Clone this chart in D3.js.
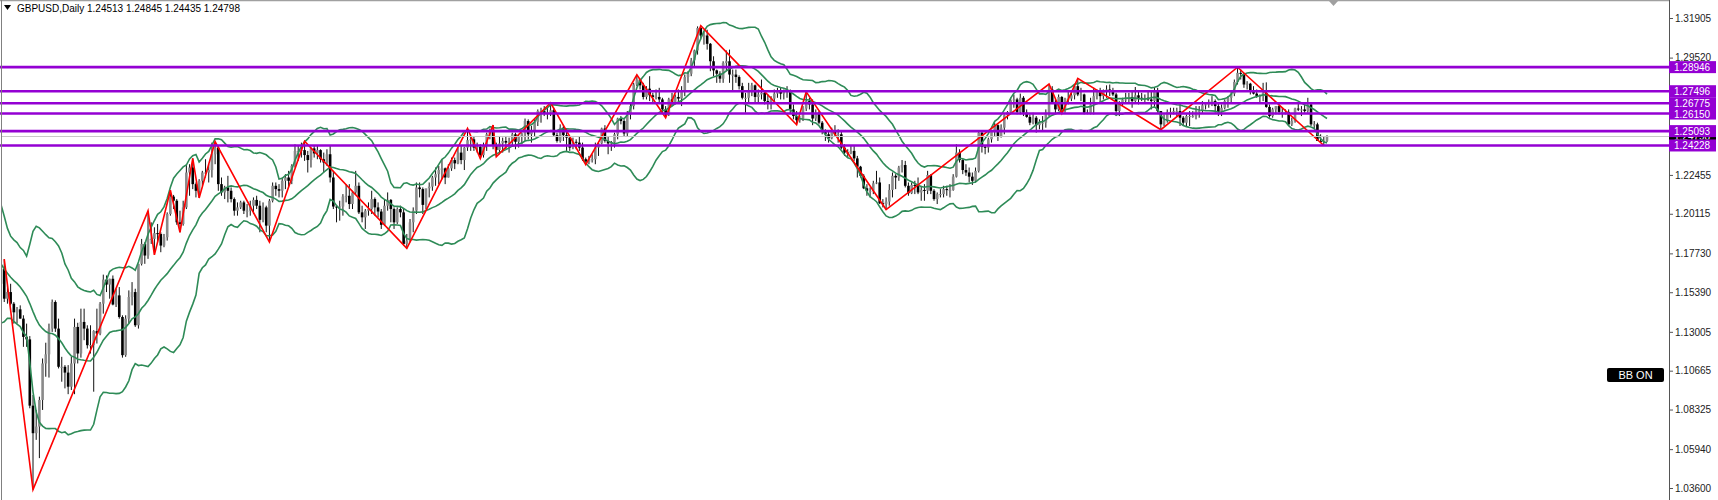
<!DOCTYPE html>
<html><head><meta charset="utf-8">
<script src="https://cdn.jsdelivr.net/npm/d3@7"></script>
<style>body{margin:0;background:#fff}svg{display:block}text{font-family:"Liberation Sans",Arial,sans-serif}</style>
</head><body><svg id="c" width="1718" height="500"></svg>
<script>
// GBPUSD daily bars, prices in 1/10000 (pips). Index 0 = 2022-08-15, index 435 = 2024-04-17
const openP=[
12130,12048,12100,12060,11940,11830,11765,11825,11800,11830,11735,11655,11630,
11620,11540,11510,11520,11510,11530,11505,11590,11680,11500,11540,11470,11418,11436,11380,11270,11255,10856,10690,10730,10890,11110,
11165,11320,11480,11320,11090,11090,11055,10970,11110,11330,11170,11360,11320,11220,11220,11305,11290,11470,11615,11585,11620,
11465,11520,11390,11160,11380,11510,11540,11340,11710,11830,11760,11860,11860,11895,11890,11820,11870,12010,12115,12090,11960,11950,
12050,12260,12290,12190,12150,12210,12260,12260,12275,12370,12410,12190,12140,12170,12150,12100,12030,12050,12080,12030,12030,12060,
12095,12060,11975,12050,11940,12090,12180,12160,12150,12210,12230,12210,12300,12390,12390,12395,12365,12335,12405,12375,12395,12340,
12320,12370,12230,12055,12050,12055,12115,12120,12070,12140,12180,12020,11990,12030,12040,12100,12050,12025,11945,12060,
12095,12040,11960,12040,12020,11830,11850,11960,12030,12170,12160,12065,12165,12175,12230,12250,12275,12285,12230,12285,12335,12315,12380,
12335,12410,12455,12460,12410,12415,12365,12425,12490,12505,12420,12395,12435,12450,12440,12445,12490,12445,12475,12495,
12570,12490,12505,12565,12630,12630,12615,12620,12635,12485,12450,12530,12485,12470,12410,12445,12440,12410,12340,12325,12340,12340,12410,
12435,12525,12450,12435,12440,12490,12585,12570,12495,12610,12660,12790,12820,12785,12715,12765,12725,12715,12715,12700,12640,12610,
12700,12685,12715,12705,12745,12835,12855,12935,12995,13130,13085,13085,13035,12930,12875,12855,12825,12920,12930,12850,12850,
12835,12780,12710,12710,12750,12785,12715,12730,12740,12690,12685,12705,12735,12750,12735,12755,12755,12640,12600,12575,12580,12645,12690,
12670,12585,12620,12560,12505,12490,12465,12505,12490,12490,12410,12380,12375,12390,12345,12295,12240,12165,12150,12150,12195,
12200,12075,12070,12085,12155,12240,12230,12290,12305,12180,12135,12185,12180,12140,12155,12150,12245,12150,12100,12130,12130,12160,
12155,12155,12235,12380,12335,12275,12260,12235,12210,12270,12500,12415,12410,12460,12505,12545,12475,12530,12605,12625,12695,12700,
12625,12710,12620,12595,12560,12590,12545,12560,12560,12620,12760,12685,12640,12715,12640,12705,12705,12725,12780,12730,
12730,12620,12615,12670,12720,12750,12720,12745,12760,12750,12730,12630,12680,12700,12700,12715,12690,12725,12710,12705,12710,12700,
12690,12750,12630,12550,12570,12625,12625,12630,12630,12590,12560,12600,12600,12600,12630,12630,12665,12670,12685,12690,12660,
12625,12650,12690,12710,12735,12805,12860,12855,12790,12795,12750,12735,12720,12720,12740,12655,12600,12640,12660,12625,12625,
12625,12550,12570,12645,12640,12640,12630,12670,12550,12550,12450,12445,12451.3];
const highP=[
12138,12125,12145,12075,11965,11845,11845,11850,11860,11900,11740,11720,11665,
11620,11650,11550,11590,11530,11560,11650,11690,11738,11580,11590,11480,11450,11460,11400,11350,11275,10920,10830,10910,11140,11235,
11350,11495,11490,11380,11150,11100,11100,11150,11380,11355,11440,11440,11340,11340,11310,11440,11480,11645,11640,11620,11640,
11560,11570,11400,11400,11550,11600,11560,11710,11860,11840,12029,11960,11930,11950,11900,11890,12020,12153,12125,12100,12030,12090,
12310,12310,12345,12200,12220,12270,12340,12310,12440,12446,12420,12230,12180,12240,12170,12110,12080,12090,12090,12070,12090,12110,
12120,12090,12080,12060,12100,12200,12200,12190,12230,12250,12270,12310,12430,12420,12440,12448,12390,12410,12420,12420,12400,12380,
12400,12420,12270,12065,12090,12130,12190,12190,12150,12270,12200,12060,12040,12080,12150,12110,12080,12040,12100,12140,
12100,12050,12050,12060,12040,11890,11980,12050,12200,12200,12170,12160,12200,12240,12290,12300,12340,12290,12310,12350,12350,12410,12420,
12415,12525,12480,12480,12440,12430,12440,12500,12525,12546,12440,12480,12470,12480,12470,12500,12500,12490,12500,12585,
12580,12540,12580,12640,12650,12660,12650,12680,12650,12500,12550,12545,12520,12480,12470,12460,12475,12440,12350,12360,12370,12440,12440,
12530,12545,12480,12450,12500,12590,12600,12580,12630,12680,12800,12848,12825,12800,12780,12840,12740,12760,12770,12710,12660,12710,
12740,12730,12760,12780,12850,12870,12950,13000,13140,13144,13110,13120,13040,12960,12880,12870,12930,12995,13000,12880,12880,
12845,12800,12740,12800,12800,12790,12760,12820,12750,12730,12720,12760,12770,12770,12760,12780,12760,12670,12630,12600,12660,12746,12710,
12700,12640,12630,12570,12520,12510,12530,12545,12520,12510,12430,12400,12420,12420,12360,12300,12250,12190,12170,12210,12270,
12230,12100,12110,12190,12260,12250,12300,12335,12330,12200,12200,12210,12230,12180,12190,12270,12250,12160,12140,12160,12180,12180,
12190,12250,12430,12400,12340,12310,12290,12260,12290,12505,12510,12420,12470,12510,12560,12550,12550,12610,12630,12710,12730,12710,
12735,12720,12640,12610,12620,12600,12580,12600,12640,12793,12780,12700,12730,12720,12710,12745,12740,12790,12827,12770,
12735,12640,12710,12770,12760,12770,12760,12785,12790,12770,12740,12690,12710,12740,12740,12750,12775,12745,12740,12730,12745,12750,
12770,12770,12630,12610,12640,12650,12650,12650,12680,12600,12610,12630,12630,12660,12660,12690,12680,12700,12720,12700,12680,
12670,12700,12720,12750,12820,12894,12880,12860,12810,12800,12780,12760,12730,12800,12803,12670,12650,12660,12670,12650,12640,
12640,12590,12650,12680,12660,12670,12710,12680,12570,12560,12490,12475,12484.5];
const lowP=[
12005,12030,12040,11915,11815,11717,11750,11775,11785,11730,11650,11620,11595,
11500,11510,11440,11460,11405,11460,11500,11570,11480,11470,11460,11350,11350,11380,11210,11210,10840,10350,10650,10540,10830,11030,
11025,11300,11300,11080,11000,10960,10925,10950,10925,11110,11145,11250,11200,11170,10940,11230,11280,11410,11540,11500,11460,
11450,11380,11145,11150,11350,11460,11330,11320,11700,11710,11740,11830,11764,11840,11780,11810,11850,12000,12040,11945,11900,11940,
12040,12120,12160,12110,12107,12180,12230,12200,12230,12310,12150,12120,12100,12080,12080,12000,12000,12040,12010,11990,12000,12010,
12040,11900,11960,11900,11841,12080,12120,12110,12110,12160,12170,12190,12290,12330,12350,12330,12260,12290,12350,12340,12320,12260,
12300,12200,12040,11960,11970,12000,12080,12040,12040,12130,12010,11960,11920,12000,12010,12000,11990,11920,11940,12030,
11960,11920,11950,11990,11820,11803,11840,11900,12010,12110,12010,12040,12110,12150,12180,12190,12220,12190,12230,12270,12280,12310,12310,
12275,12390,12390,12390,12380,12344,12350,12390,12460,12400,12355,12370,12380,12400,12380,12420,12400,12410,12430,12450,
12460,12440,12480,12540,12560,12600,12580,12600,12480,12440,12440,12450,12390,12390,12400,12400,12390,12330,12308,12310,12320,12310,12360,
12430,12440,12370,12390,12410,12460,12550,12480,12480,12580,12640,12780,12760,12700,12700,12690,12680,12700,12680,12620,12590,12600,
12660,12670,12680,12660,12720,12800,12840,12900,12970,13060,13030,13000,12870,12840,12800,12800,12800,12870,12800,12750,12800,
12760,12700,12620,12680,12720,12680,12680,12700,12670,12640,12640,12690,12710,12700,12700,12710,12615,12580,12548,12560,12570,12630,12640,
12545,12570,12550,12490,12450,12440,12460,12480,12440,12400,12360,12350,12370,12330,12230,12230,12160,12120,12110,12130,12190,
12070,12050,12037,12060,12110,12160,12210,12260,12170,12120,12130,12130,12130,12090,12090,12130,12130,12090,12070,12110,12110,12120,
12110,12150,12230,12320,12250,12240,12200,12185,12200,12260,12380,12370,12380,12440,12480,12450,12470,12490,12580,12620,12650,12610,
12610,12600,12590,12545,12550,12500,12520,12510,12530,12600,12680,12610,12630,12615,12620,12670,12690,12700,12720,12690,
12610,12611,12610,12610,12700,12680,12700,12710,12720,12720,12600,12600,12660,12680,12680,12650,12680,12670,12690,12680,12690,12640,
12650,12620,12518,12540,12560,12590,12610,12600,12540,12540,12540,12540,12590,12580,12590,12620,12640,12650,12660,12620,12600,
12600,12640,12650,12680,12720,12790,12820,12770,12760,12730,12730,12710,12680,12690,12650,12590,12590,12610,12610,12590,12610,
12540,12540,12560,12630,12600,12620,12620,12540,12520,12450,12440,12422.8,12443.5];
const closeP=[
12048,12100,12060,11940,11830,11765,11825,11800,11830,11735,11655,11630,11620,
11540,11510,11520,11510,11530,11505,11590,11680,11500,11540,11470,11418,11436,11380,11270,11255,10856,10690,10730,10890,11110,11165,
11320,11480,11320,11090,11090,11055,10970,11110,11330,11170,11360,11320,11220,11220,11305,11290,11470,11615,11585,11620,11465,
11520,11390,11160,11380,11510,11540,11340,11710,11830,11760,11860,11860,11895,11890,11820,11870,12010,12115,12090,11960,11950,12050,
12260,12290,12190,12150,12210,12260,12260,12275,12370,12410,12190,12140,12170,12150,12100,12030,12050,12080,12030,12030,12060,12095,
12060,11975,12050,11940,12090,12180,12160,12150,12210,12230,12210,12300,12390,12390,12395,12365,12335,12405,12375,12395,12340,12320,
12370,12230,12055,12050,12055,12115,12120,12070,12140,12180,12020,11990,12030,12040,12100,12050,12025,11945,12060,12095,
12040,11960,12040,12020,11830,11850,11960,12030,12170,12160,12065,12165,12175,12230,12250,12275,12285,12230,12285,12335,12315,12380,12335,
12410,12455,12460,12410,12415,12365,12425,12490,12505,12420,12395,12435,12450,12440,12445,12490,12445,12475,12495,12570,
12490,12505,12565,12630,12630,12615,12620,12635,12485,12450,12530,12485,12470,12410,12445,12440,12410,12340,12325,12340,12340,12410,12435,
12525,12450,12435,12440,12490,12585,12570,12495,12610,12660,12790,12820,12785,12715,12765,12725,12715,12715,12700,12640,12610,12700,
12685,12715,12705,12745,12835,12855,12935,12995,13130,13085,13085,13035,12930,12875,12855,12825,12920,12930,12850,12850,12835,
12780,12710,12710,12750,12785,12715,12730,12740,12690,12685,12705,12735,12750,12735,12755,12755,12640,12600,12575,12580,12645,12690,12670,
12585,12620,12560,12505,12490,12465,12505,12490,12490,12410,12380,12375,12390,12345,12295,12240,12165,12150,12150,12195,12200,
12075,12070,12085,12155,12240,12230,12290,12305,12180,12135,12185,12180,12140,12155,12150,12245,12150,12100,12130,12130,12160,12155,
12155,12235,12380,12335,12275,12260,12235,12210,12270,12500,12415,12410,12460,12505,12545,12475,12530,12605,12625,12695,12700,12625,
12710,12620,12595,12560,12590,12545,12560,12560,12620,12760,12685,12640,12715,12640,12705,12705,12725,12780,12730,12730,
12620,12615,12670,12720,12750,12720,12745,12760,12750,12730,12630,12680,12700,12700,12715,12690,12725,12710,12705,12710,12700,12690,
12750,12630,12550,12570,12625,12625,12630,12630,12590,12560,12600,12600,12600,12630,12630,12665,12670,12685,12690,12660,12625,
12650,12690,12710,12735,12805,12860,12855,12790,12795,12750,12735,12720,12720,12740,12655,12600,12640,12660,12625,12625,12625,
12550,12570,12645,12640,12640,12630,12670,12550,12550,12450,12445,12451.3,12479.8];
// ZigZag pivots: [bar index, price]
const zigIdx=[21,30,66,68,73,76,80,82,87,104,115,147,166,170,174,175,192,203,219,228,239,269,272,297,348,352,357,383,407,434];
const zigPrice=[1.1738,1.0350,1.2029,1.1764,1.2153,1.1900,1.2345,1.2107,1.2446,1.1841,1.2448,1.1803,1.2525,1.2344,1.2546,1.2355,1.2680,1.2308,1.2848,1.2590,1.3144,1.2548,1.2746,1.2037,1.2793,1.2615,1.2827,1.2518,1.2894,1.24228];
const levels=[1.28946,1.27496,1.26775,1.26150,1.25093,1.24228];
const tickValues=[1.31905,1.29520,1.22455,1.20115,1.17730,1.15390,1.13005,1.10665,1.08325,1.05940,1.03600];
const bid=1.24798;
const titleText="GBPUSD,Daily  1.24513 1.24845 1.24435 1.24798";
const bbPeriod=20, bbDev=2;

const bars=openP.map((o,i)=>({i,o:o/1e4,h:highP[i]/1e4,l:lowP[i]/1e4,c:closeP[i]/1e4}));
const svg=d3.select("#c");
const W=1718,H=500,axisX=1669;
const y=d3.scaleLinear().domain([1.03600,1.31905]).range([488,18]);
const x=d3.scaleLinear().domain([30,435]).range([33,1327]);

svg.append("rect").attr("width",W).attr("height",H).attr("fill","#fff");
const defs=svg.append("defs");
defs.append("clipPath").attr("id","pc").append("rect").attr("x",2).attr("y",1).attr("width",axisX-2).attr("height",H);
const plot=svg.append("g").attr("clip-path","url(#pc)");

// candles
const cg=plot.append("g");
cg.selectAll("line.w").data(bars).join("line").attr("class","w")
 .attr("x1",d=>x(d.i)).attr("x2",d=>x(d.i))
 .attr("y1",d=>y(d.h)).attr("y2",d=>y(d.l)).attr("stroke","#111").attr("stroke-width",1);
cg.selectAll("rect.b").data(bars).join("rect").attr("class","b")
 .attr("x",d=>x(d.i)-1.3).attr("width",2.6)
 .attr("y",d=>y(Math.max(d.o,d.c))).attr("height",d=>Math.max(1,Math.abs(y(d.o)-y(d.c))))
 .attr("fill",d=>d.c>=d.o?"#8a8a8a":"#000");

// Bollinger bands
const bb=[];
for(let i=bbPeriod-1;i<bars.length;i++){
  const s=bars.slice(i-bbPeriod+1,i+1).map(b=>b.c);
  const m=d3.mean(s); const sd=Math.sqrt(d3.mean(s.map(v=>(v-m)*(v-m))));
  bb.push({i,m,u:m+bbDev*sd,d:m-bbDev*sd});
}
["u","m","d"].forEach(k=>{
  plot.append("path").datum(bb).attr("fill","none").attr("stroke","#2e8b57").attr("stroke-width",1.6)
   .attr("d",d3.line().x(d=>x(d.i)).y(d=>y(d[k])));
});

// zigzag
plot.append("path").datum(zigIdx.map((v,k)=>[v,zigPrice[k]])).attr("fill","none").attr("stroke","#ff0000").attr("stroke-width",1.6)
 .attr("d",d3.line().x(d=>x(d[0])).y(d=>y(d[1])));

// bid line
svg.append("line").attr("x1",2).attr("x2",axisX).attr("y1",Math.round(y(bid))+0.5).attr("y2",Math.round(y(bid))+0.5).attr("stroke","#c8c8c8");

// horizontal levels
svg.selectAll("line.lv").data(levels).join("line").attr("class","lv")
 .attr("x1",0).attr("x2",axisX).attr("y1",d=>y(d)).attr("y2",d=>y(d))
 .attr("stroke","#9400d3").attr("stroke-width",2.6);

// frame
svg.append("line").attr("x1",0).attr("x2",axisX).attr("y1",0.5).attr("y2",0.5).attr("stroke","#a0a0a0").attr("stroke-width",1.5);
svg.append("line").attr("x1",1.5).attr("x2",1.5).attr("y1",0).attr("y2",H).attr("stroke","#808080");
svg.append("line").attr("x1",axisX+0.5).attr("x2",axisX+0.5).attr("y1",0).attr("y2",H).attr("stroke","#555");

// axis
const ax=svg.append("g").attr("transform",`translate(${axisX},0)`)
 .call(d3.axisRight(y).tickValues(tickValues).tickSize(4).tickPadding(2).tickFormat(d3.format(".5f")));
ax.select(".domain").remove();
ax.selectAll(".tick line").attr("stroke","#555");
ax.selectAll(".tick text").attr("fill","#222").style("font-size","10px").style("font-family","'Liberation Sans',Arial,sans-serif");

// bid label (black, mostly covered) then level labels (purple)
const lab=svg.append("g");
const yb=y(bid);
defs.append("clipPath").attr("id","bidclip").append("rect").attr("x",axisX).attr("y",y(1.25093)+6).attr("width",50).attr("height",Math.max(0,(y(1.24228)-6)-(y(1.25093)+6)));
lab.append("rect").attr("x",axisX).attr("y",yb-6).attr("width",47).attr("height",12).attr("fill","#000");
lab.append("text").attr("clip-path","url(#bidclip)").attr("x",axisX+5).attr("y",yb+4).attr("fill","#fff").style("font-size","10px").text(d3.format(".5f")(bid));
levels.forEach(v=>{
  lab.append("rect").attr("x",axisX).attr("y",y(v)-6).attr("width",47).attr("height",12).attr("fill","#9400d3");
  lab.append("text").attr("x",axisX+5).attr("y",y(v)+4).attr("fill","#fff").style("font-size","10px").text(d3.format(".5f")(v));
});

// title
svg.append("path").attr("d","M4,5 L11,5 L7.5,10 Z").attr("fill","#000");
svg.append("text").attr("x",17).attr("y",12).attr("fill","#000").style("font-size","10px").text(titleText);

// chart shift marker
svg.append("path").attr("d","M1329,1 L1338,1 L1333.5,6 Z").attr("fill","#a0a0a0");

// BB ON label
svg.append("rect").attr("x",1607).attr("y",368).attr("width",57).attr("height",14).attr("rx",2).attr("fill","#000");
svg.append("text").attr("x",1635.5).attr("y",379).attr("text-anchor","middle").attr("fill","#fff").style("font-size","11px").text("BB ON");
</script></body></html>
